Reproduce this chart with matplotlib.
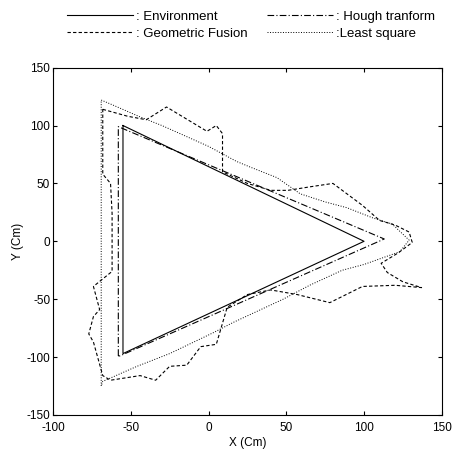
import matplotlib
matplotlib.use("Agg")
import matplotlib.pyplot as plt
import numpy as np

plt.rcParams['font.family'] = ['Liberation Sans', 'DejaVu Sans']
plt.rcParams['axes.unicode_minus'] = False

#=========================== DATA =============================================#
env_x = [-55, 100, -55, -55]
env_y = [100, 0, -97, 100]

hough_x = [-58, -58, 113, -57, -58]
hough_y = [-99, 99, 2, -99, -99]

geo_x = [-68, -52, -40, -27, -1, 5, 9, 9, 25, 40, 51, 65, 80, 90, 99, 110, 120, 129,
         131, 122, 111, 115, 125, 137, 120, 99, 78, 57, 40, 25, 12, 5, -5, -14, -25,
         -34, -44, -63, -68, -74, -77, -74, -70, -74, -62, -62, -63, -68, -68]
geo_y = [114, 108, 105, 116, 95, 100, 93, 60, 50, 44, 44, 47, 50, 40, 31, 18, 14, 8,
         -1, -10, -19, -27, -35, -40, -38, -39, -53, -46, -42, -46, -57, -89, -91, -107, -108,
         -120, -116, -120, -116, -87, -80, -65, -59, -39, -26, 24, 50, 58, 114]

ls_x = [-69, -62, -45, -30, 0, 18, 27, 44, 59, 75, 89, 106, 118, 129, 123, 100, 86, 65,
        48, 16, 3, -25, -46, -68, -69, -69]
ls_y = [122, 118, 108, 100, 82, 69, 64, 55, 41, 34, 29, 20, 15, 1, -9, -20, -25, -38,
        -50, -70, -79, -97, -108, -121, -125, 122]

#=========================== PLOT =============================================#
fig = plt.figure(figsize=(4.69, 4.57), dpi=100)
ax = fig.add_axes([0.113, 0.092, 0.829, 0.760])

l1, = ax.plot(env_x, env_y, '-', color='black', linewidth=0.8)
l3, = ax.plot(hough_x, hough_y, color='black', linewidth=0.8, dashes=[6, 2, 1, 2])
l2, = ax.plot(geo_x, geo_y, '--', color='black', linewidth=0.8, dashes=[3, 2])
l4, = ax.plot(ls_x, ls_y, ':', color='black', linewidth=0.7)

ax.set_xlim(-100, 150)
ax.set_ylim(-150, 150)
ax.set_xticks([-100, -50, 0, 50, 100, 150])
ax.set_yticks([-150, -100, -50, 0, 50, 100, 150])
ax.tick_params(direction='in', top=True, right=True, labelsize=8.5, length=3)
ax.tick_params(axis='x', pad=5)
ax.tick_params(axis='y', pad=2)
ax.set_xlabel('X (Cm)', fontsize=8.5, labelpad=2)
ax.set_ylabel('Y (Cm)', fontsize=8.5, labelpad=2)

fig.legend([l1, l2, l3, l4],
           [': Environment', ': Geometric Fusion', ': Hough tranform', ':Least square'],
           ncol=2, frameon=False, fontsize=9.5, loc='upper center',
           bbox_to_anchor=(0.535, 1.003), handlelength=5.0, handletextpad=0.2,
           columnspacing=1.5, labelspacing=0.35)

fig.savefig("out.png", dpi=100)
